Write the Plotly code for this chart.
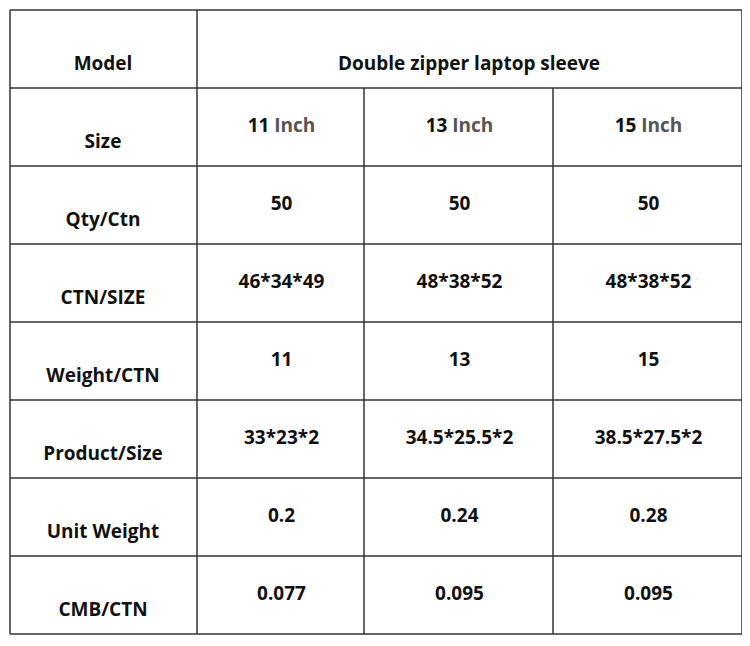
import plotly.graph_objects as go

row_labels = ["Model", "Size", "Qty/Ctn", "CTN/SIZE", "Weight/CTN", "Product/Size", "Unit Weight", "CMB/CTN"]
header_text = "Double zipper laptop sleeve"
sizes = ["11", "13", "15"]
qty = ["50", "50", "50"]
ctn_size = ["46*34*49", "48*38*52", "48*38*52"]
weight_ctn = ["11", "13", "15"]
product_size = ["33*23*2", "34.5*25.5*2", "38.5*27.5*2"]
unit_weight = ["0.2", "0.24", "0.28"]
cmb_ctn = ["0.077", "0.095", "0.095"]

col_edges = [10, 197, 364, 553, 742]
row_edges = [10 + 78 * i for i in range(9)]

fig = go.Figure()
font = dict(family="Open Sans", size=19, color="#111")

fig.add_trace(go.Scatter(
    x=[103] * len(row_labels),
    y=[row_edges[i] + 55 for i in range(len(row_labels))],
    mode="text", text=[f"<b>{t}</b>" for t in row_labels], textfont=font, hoverinfo="skip"))

fig.add_trace(go.Scatter(x=[469], y=[row_edges[0] + 55], mode="text",
                         text=[f"<b>{header_text}</b>"], textfont=font, hoverinfo="skip"))

centers = [(col_edges[i] + col_edges[i + 1]) / 2 + 1 for i in range(1, 4)]
size_txt = [f"<b>{s}</b> <span style='color:#555'><b>Inch</b></span>" for s in sizes]
rows = [size_txt, qty, ctn_size, weight_ctn, product_size, unit_weight, cmb_ctn]
xs, ys, ts = [], [], []
for r, vals in enumerate(rows, start=1):
    for c, v in enumerate(vals):
        xs.append(centers[c])
        ys.append(row_edges[r] + 39)
        ts.append(v if r == 1 else f"<b>{v}</b>")
fig.add_trace(go.Scatter(x=xs, y=ys, mode="text", text=ts, textfont=font, hoverinfo="skip"))

line = dict(color="#333", width=1.5)
for y in row_edges:
    fig.add_shape(type="line", x0=col_edges[0], x1=col_edges[-1], y0=y, y1=y, line=line)
fig.add_shape(type="line", x0=col_edges[0], x1=col_edges[0], y0=row_edges[0], y1=row_edges[-1], line=line)
fig.add_shape(type="line", x0=col_edges[-1], x1=col_edges[-1], y0=row_edges[0], y1=row_edges[-1], line=line)
fig.add_shape(type="line", x0=col_edges[1], x1=col_edges[1], y0=row_edges[0], y1=row_edges[-1], line=line)
for x in col_edges[2:4]:
    fig.add_shape(type="line", x0=x, x1=x, y0=row_edges[1], y1=row_edges[-1], line=line)

fig.update_layout(width=750, height=646, margin=dict(l=0, r=0, t=0, b=0),
                  paper_bgcolor="white", plot_bgcolor="white", showlegend=False,
                  xaxis=dict(range=[8, 758], visible=False, fixedrange=True),
                  yaxis=dict(range=[654, 8], visible=False, fixedrange=True))
fig.write_html("out.html")
